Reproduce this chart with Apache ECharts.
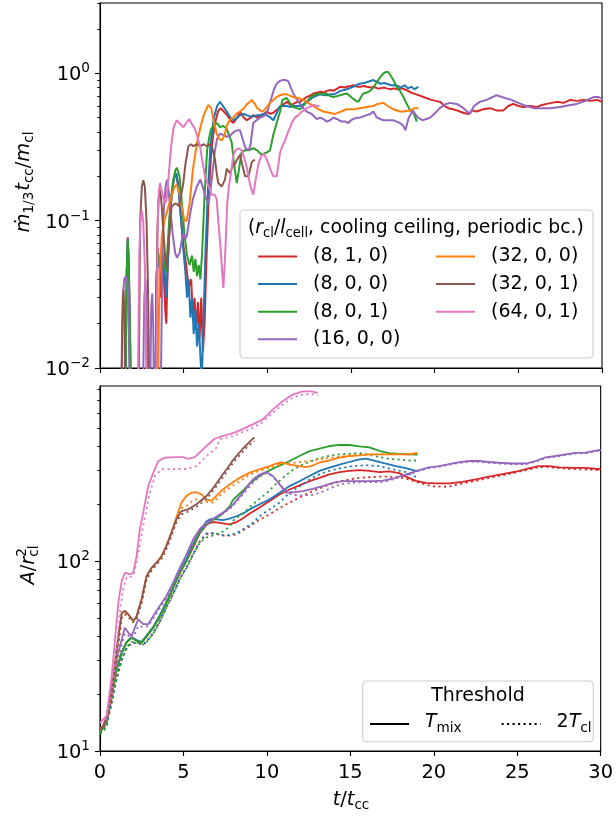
<!DOCTYPE html>
<html>
<head>
<meta charset="utf-8">
<script src="https://cdn.jsdelivr.net/npm/echarts@6/dist/echarts.min.js"></script>
<style>
  html, body { margin: 0; padding: 0; background: #ffffff; }
  #chart { width: 616px; height: 816px; }
</style>
</head>
<body>
<div id="chart"></div>
<script>
// ---------- simulation labels (r_cl/l_cell, cooling ceiling, periodic bc.) ----------
const runNames = ['(8, 1, 0)', '(8, 0, 0)', '(8, 0, 1)', '(16, 0, 0)', '(32, 0, 0)', '(32, 0, 1)', '(64, 0, 1)'];
const runColors = ['#d62728', '#1f77b4', '#2ca02c', '#9467bd', '#ff7f0e', '#8c564b', '#e377c2'];

// ---------- top panel: normalised mass growth rate, [t/t_cc, value] ----------
const rate_8_1_0 = [[1.50,0.005],[1.60,0.045],[1.66,0.077],[1.72,0.05],[1.80,0.015],[1.86,0.005],
  [3.30,0.005],[3.38,0.04],[3.45,0.065],[3.55,0.05],[3.62,0.03],[3.70,0.055],[3.80,0.045],[3.90,0.025],[3.96,0.02],[4.05,0.05],[4.20,0.12],[4.40,0.19],[4.55,0.21],[4.70,0.17],[4.85,0.1],[5.00,0.065],[5.15,0.05],[5.30,0.035],[5.45,0.04],[5.55,0.022],[5.65,0.03],[5.75,0.018],[5.85,0.028],[5.95,0.016],[6.05,0.03],[6.15,0.013],[6.25,0.02],[6.35,0.05],[6.50,0.15],[6.65,0.3],[6.85,0.45],[7.05,0.55],[7.2,0.58],[7.4,0.55],[7.6,0.52],[7.8,0.48],[7.97,0.46],[8.2,0.5],[8.37,0.55],[8.6,0.5],[8.77,0.48],[9.0,0.5],[9.16,0.52],[9.4,0.5],[9.56,0.51],[9.8,0.53],[9.96,0.55],[10.2,0.53],[10.36,0.54],[10.6,0.57],[10.76,0.59],[11.0,0.62],[11.16,0.64],[11.4,0.61],[11.55,0.62],[11.8,0.64],[11.95,0.64],[12.2,0.67],[12.35,0.69],[12.6,0.71],[12.75,0.73],[13.0,0.74],[13.15,0.75],[13.4,0.74],[13.55,0.76],[13.8,0.77],[13.95,0.76],[14.2,0.79],[14.35,0.81],[14.6,0.8],[14.75,0.81],[15.0,0.82],[15.14,0.83],[15.4,0.81],[15.54,0.81],[15.8,0.82],[15.94,0.81],[16.2,0.8],[16.34,0.81],[16.6,0.79],[16.74,0.79],[17.0,0.8],[17.13,0.79],[17.4,0.78],[17.53,0.79],[17.8,0.78],[18.0,0.79],[18.33,0.77],[18.6,0.74],[18.9,0.72],[19.33,0.69],[19.8,0.66],[20.32,0.64],[20.6,0.6],[20.82,0.58],[21.1,0.57],[21.32,0.56],[21.7,0.54],[22.0,0.53],[22.25,0.56],[22.5,0.55],[22.9,0.57],[23.3,0.58],[23.7,0.56],[24.1,0.56],[24.4,0.6],[24.7,0.62],[25.0,0.6],[25.3,0.59],[25.7,0.6],[26.1,0.59],[26.4,0.61],[26.7,0.62],[27.0,0.63],[27.3,0.64],[27.7,0.63],[28.1,0.66],[28.5,0.65],[28.9,0.66],[29.3,0.65],[29.7,0.66],[30.0,0.64]];
const rate_8_0_0 = [[1.50,0.005],[1.60,0.045],[1.66,0.075],[1.72,0.048],[1.80,0.014],[1.86,0.005],
  [3.30,0.005],[3.38,0.04],[3.45,0.062],[3.55,0.048],[3.65,0.05],[3.75,0.04],[3.85,0.05],[3.95,0.03],[4.05,0.05],[4.20,0.12],[4.40,0.19],[4.55,0.21],[4.70,0.16],[4.85,0.1],[5.00,0.06],[5.10,0.045],[5.20,0.03],[5.30,0.04],[5.40,0.022],[5.50,0.03],[5.60,0.017],[5.70,0.025],[5.80,0.014],[5.90,0.02],[6.00,0.012],[6.08,0.008],[6.18,0.02],[6.30,0.06],[6.45,0.16],[6.6,0.32],[6.8,0.5],[7.0,0.6],[7.17,0.64],[7.35,0.6],[7.57,0.55],[7.8,0.5],[7.97,0.48],[8.2,0.5],[8.37,0.52],[8.6,0.53],[8.77,0.52],[9.0,0.51],[9.16,0.51],[9.4,0.52],[9.56,0.52],[9.8,0.53],[9.96,0.52],[10.2,0.5],[10.36,0.48],[10.6,0.55],[10.76,0.6],[11.0,0.6],[11.16,0.6],[11.4,0.59],[11.55,0.6],[11.8,0.6],[11.95,0.6],[12.2,0.62],[12.35,0.64],[12.6,0.67],[12.75,0.69],[13.0,0.71],[13.15,0.72],[13.4,0.71],[13.55,0.71],[13.8,0.72],[13.95,0.72],[14.2,0.74],[14.35,0.76],[14.6,0.77],[14.75,0.78],[15.0,0.8],[15.14,0.81],[15.4,0.84],[15.54,0.85],[15.8,0.86],[15.94,0.87],[16.2,0.89],[16.34,0.9],[16.6,0.87],[16.74,0.85],[17.0,0.86],[17.13,0.85],[17.4,0.83],[17.53,0.83],[17.8,0.82],[18.0,0.8],[18.2,0.83],[18.4,0.79],[18.6,0.81],[18.8,0.78],[19.03,0.81]];
const rate_8_0_1 = [[1.50,0.005],[1.60,0.045],[1.66,0.074],[1.72,0.05],[1.80,0.015],[1.86,0.005],
  [3.30,0.005],[3.38,0.04],[3.45,0.062],[3.55,0.052],[3.65,0.048],[3.75,0.06],[3.85,0.05],[3.95,0.045],[4.05,0.07],[4.20,0.13],[4.35,0.18],[4.50,0.22],[4.60,0.228],[4.75,0.2],[4.90,0.13],[5.05,0.08],[5.20,0.058],[5.35,0.05],[5.50,0.058],[5.60,0.045],[5.70,0.055],[5.80,0.042],[5.90,0.05],[6.00,0.04],[6.10,0.06],[6.25,0.15],[6.40,0.3],[6.55,0.38],[6.65,0.42],[6.8,0.44],[7.0,0.46],[7.17,0.43],[7.35,0.44],[7.57,0.42],[7.75,0.37],[7.87,0.34],[8.0,0.25],[8.17,0.18],[8.3,0.22],[8.45,0.29],[8.65,0.3],[8.9,0.3],[9.15,0.31],[9.4,0.3],[9.65,0.28],[9.96,0.29],[10.16,0.3],[10.35,0.38],[10.56,0.46],[10.76,0.55],[10.9,0.66],[11.16,0.68],[11.35,0.63],[11.55,0.59],[11.75,0.58],[11.95,0.57],[12.15,0.6],[12.35,0.64],[12.55,0.68],[12.75,0.71],[12.95,0.72],[13.15,0.73],[13.35,0.72],[13.55,0.73],[13.75,0.7],[13.95,0.69],[14.15,0.7],[14.35,0.71],[14.55,0.72],[14.75,0.73],[14.95,0.7],[15.14,0.67],[15.3,0.65],[15.44,0.64],[15.6,0.69],[15.74,0.73],[15.94,0.74],[16.14,0.76],[16.34,0.8],[16.54,0.87],[16.74,0.94],[16.93,1.0],[17.1,1.02],[17.23,1.02],[17.4,0.95],[17.53,0.9],[17.73,0.81],[17.93,0.76],[18.13,0.69],[18.33,0.62],[18.53,0.56],[18.73,0.54],[18.85,0.5],[18.93,0.47]];
const rate_16_0_0 = [[1.28,0.005],[1.36,0.03],[1.45,0.04],[1.55,0.042],[1.65,0.038],[1.72,0.02],[1.78,0.005],
  [2.55,0.005],[2.65,0.03],[2.72,0.04],[2.80,0.02],[2.86,0.005],
  [2.98,0.005],[3.06,0.025],[3.12,0.032],[3.18,0.02],[3.24,0.005],
  [3.62,0.005],[3.72,0.05],[3.82,0.12],[3.92,0.17],[4.0,0.19],[4.1,0.16],[4.2,0.12],[4.35,0.08],[4.5,0.06],[4.6,0.056],[4.75,0.06],[4.9,0.075],[4.98,0.082],[5.1,0.075],[5.2,0.08],[5.38,0.11],[5.55,0.14],[5.78,0.17],[6.0,0.19],[6.08,0.19],[6.2,0.16],[6.3,0.145],[6.48,0.13],[6.6,0.16],[6.7,0.2],[6.87,0.3],[7.0,0.36],[7.17,0.39],[7.4,0.38],[7.57,0.37],[7.8,0.38],[8.0,0.4],[8.2,0.41],[8.37,0.41],[8.55,0.35],[8.7,0.31],[8.9,0.3],[9.0,0.33],[9.16,0.46],[9.35,0.48],[9.56,0.5],[9.76,0.51],[9.96,0.53],[10.1,0.6],[10.26,0.69],[10.4,0.78],[10.56,0.85],[10.76,0.89],[10.96,0.9],[11.1,0.9],[11.26,0.88],[11.4,0.8],[11.55,0.73],[11.75,0.67],[11.95,0.62],[12.15,0.58],[12.35,0.55],[12.65,0.53],[12.95,0.49],[13.15,0.5],[13.35,0.49],[13.55,0.47],[13.75,0.48],[13.95,0.5],[14.14,0.49],[14.3,0.48],[14.44,0.47],[14.65,0.47],[14.84,0.46],[15.0,0.48],[15.14,0.49],[15.35,0.5],[15.54,0.5],[15.75,0.51],[15.94,0.52],[16.15,0.53],[16.34,0.55],[16.55,0.5],[16.74,0.49],[16.95,0.48],[17.13,0.48],[17.33,0.48],[17.53,0.48],[17.73,0.47],[17.93,0.46],[18.13,0.44],[18.25,0.41],[18.45,0.5],[18.7,0.56],[18.83,0.53],[19.0,0.5],[19.3,0.48],[19.5,0.49],[19.73,0.5],[20.12,0.55],[20.3,0.58],[20.7,0.62],[20.92,0.63],[21.32,0.62],[21.72,0.58],[22.1,0.53],[22.35,0.6],[22.7,0.64],[23.1,0.66],[23.7,0.71],[24.2,0.68],[24.6,0.66],[25.0,0.63],[25.3,0.61],[25.9,0.58],[26.3,0.58],[26.9,0.58],[27.5,0.59],[28.1,0.61],[28.5,0.62],[29.0,0.65],[29.5,0.69],[29.8,0.69],[30.0,0.67]];
const rate_32_0_0 = [[3.45,0.005],[3.55,0.04],[3.70,0.08],[3.85,0.1],[4.08,0.124],[4.3,0.15],[4.45,0.17],[4.58,0.175],[4.72,0.16],[4.88,0.124],[5.05,0.1],[5.18,0.1],[5.35,0.13],[5.55,0.22],[5.78,0.33],[6.0,0.43],[6.2,0.52],[6.47,0.61],[6.65,0.58],[6.8,0.47],[6.97,0.39],[7.1,0.36],[7.27,0.35],[7.45,0.38],[7.57,0.44],[7.75,0.48],[7.97,0.5],[8.15,0.53],[8.37,0.55],[8.6,0.58],[8.8,0.62],[9.07,0.66],[9.25,0.62],[9.4,0.58],[9.66,0.55],[9.8,0.56],[9.96,0.59],[10.16,0.63],[10.36,0.66],[10.56,0.69],[10.76,0.71],[11.0,0.72],[11.16,0.72],[11.4,0.7],[11.55,0.69],[11.85,0.68],[12.15,0.66],[12.45,0.63],[12.75,0.6],[13.05,0.57],[13.35,0.55],[13.7,0.54],[14.05,0.53],[14.4,0.55],[14.74,0.57],[15.14,0.57],[15.54,0.58],[15.94,0.59],[16.34,0.6],[16.6,0.62],[16.93,0.63],[17.2,0.6],[17.53,0.57],[17.93,0.55],[18.13,0.55],[18.53,0.56],[18.8,0.58],[19.03,0.58]];
const rate_32_0_1 = [[1.25,0.005],[1.33,0.02],[1.40,0.034],[1.46,0.025],[1.52,0.005],
  [2.30,0.005],[2.40,0.1],[2.50,0.17],[2.59,0.188],[2.68,0.17],[2.78,0.1],[2.88,0.03],[2.95,0.005],
  [3.35,0.005],[3.42,0.08],[3.50,0.14],[3.59,0.16],[3.68,0.13],[3.80,0.08],[3.90,0.055],[3.98,0.048],[4.1,0.07],[4.2,0.1],[4.28,0.124],[4.45,0.13],[4.58,0.13],[4.72,0.125],[4.85,0.15],[4.98,0.18],[5.1,0.24],[5.28,0.32],[5.45,0.33],[5.58,0.32],[5.8,0.33],[5.98,0.32],[6.2,0.33],[6.38,0.32],[6.55,0.33],[6.68,0.32],[6.87,0.26],[7.0,0.2],[7.07,0.18],[7.17,0.18],[7.27,0.17],[7.37,0.17],[7.47,0.19],[7.57,0.225],[7.67,0.22],[7.77,0.21],[7.9,0.23],[8.07,0.244],[8.2,0.26],[8.37,0.28],[8.5,0.24],[8.67,0.2],[8.87,0.2],[9.0,0.23],[9.07,0.25],[9.26,0.26]];
const rate_64_0_1 = [[2.25,0.005],[2.35,0.06],[2.42,0.1],[2.49,0.118],[2.58,0.1],[2.68,0.05],[2.76,0.01],[2.80,0.005],
  [3.35,0.005],[3.45,0.1],[3.52,0.16],[3.59,0.18],[3.68,0.16],[3.80,0.14],[3.88,0.13],[3.98,0.14],[4.1,0.2],[4.25,0.32],[4.4,0.43],[4.58,0.48],[4.75,0.46],[4.98,0.43],[5.15,0.46],[5.34,0.49],[5.5,0.45],[5.68,0.42],[5.85,0.36],[5.98,0.32],[6.1,0.26],[6.28,0.2],[6.5,0.17],[6.68,0.15],[6.85,0.15],[6.97,0.14],[7.1,0.09],[7.2,0.066],[7.3,0.045],[7.37,0.035],[7.45,0.05],[7.53,0.08],[7.6,0.13],[7.7,0.17],[7.85,0.22],[7.97,0.28],[8.1,0.3],[8.27,0.31],[8.47,0.3],[8.65,0.26],[8.77,0.23],[8.95,0.18],[9.07,0.16],[9.16,0.15],[9.3,0.19],[9.46,0.24],[9.6,0.27],[9.76,0.285],[9.9,0.27],[10.06,0.244],[10.2,0.22],[10.36,0.2],[10.56,0.2],[10.66,0.24],[10.76,0.29],[10.9,0.32],[11.06,0.35],[11.2,0.39],[11.36,0.43],[11.5,0.47],[11.65,0.5],[11.85,0.52],[12.05,0.55],[12.2,0.56],[12.35,0.58],[12.5,0.59],[12.65,0.6],[12.8,0.61],[12.95,0.6],[13.1,0.6]];

// ---------- bottom panel: cold-gas surface area, threshold T_mix (solid) ----------
const area_8_1_0_mix = [[0,13],[0.2,13.6],[0.4,14.7],[0.7,20],[1.0,26.9],[1.3,32.9],[1.59,37.2],[1.89,39.5],[2.19,38],[2.49,37.2],[2.79,40],[3.19,44.6],[3.59,51],[3.98,60],[4.38,72],[4.78,86],[5.18,100],[5.58,118],[5.98,140],[6.38,155],[6.6,159],[6.87,160],[7.37,158],[7.77,156],[8.17,160],[8.57,168],[8.97,178],[9.56,191],[10.16,207],[10.76,224],[11.36,238],[11.95,250],[12.55,263],[13.15,274],[13.75,286],[14.35,294],[14.94,298],[15.54,301],[16.14,298],[16.74,294],[17.33,296],[17.93,290],[18.33,278],[18.93,264],[19.52,258],[20.12,256],[20.92,256],[21.72,261],[22.52,269],[23.31,278],[24.11,287],[24.9,295],[25.7,307],[26.3,316],[26.9,316],[27.5,311],[28.3,309],[29.1,309],[30,304]];
const area_8_0_0_mix = [[0,13],[0.2,13.6],[0.4,14.7],[0.7,20.2],[1.0,27],[1.3,33],[1.59,37.5],[1.89,39.8],[2.19,38.3],[2.49,37.5],[2.79,40.5],[3.19,45],[3.59,52],[3.98,61],[4.38,73],[4.78,88],[5.18,103],[5.58,123],[5.98,144],[6.38,162],[6.6,166],[6.87,166],[7.37,164],[7.77,167],[8.17,172],[8.57,178],[8.97,187],[9.56,199],[10.16,211],[10.76,229],[11.36,248],[11.95,263],[12.55,280],[13.15,298],[13.75,310],[14.35,322],[14.94,332],[15.54,343],[15.94,346],[16.54,336],[17.13,326],[17.73,316],[18.33,308],[18.93,298],[19.03,296]];
const area_8_0_1_mix = [[0,12.6],[0.2,13.2],[0.4,14.5],[0.7,20.3],[1.0,26.9],[1.3,32.9],[1.59,37.2],[1.89,39.5],[2.19,38],[2.49,37.2],[2.79,40.3],[3.19,44.6],[3.59,51.3],[3.98,60.4],[4.38,72.4],[4.78,86.8],[5.18,100],[5.58,120],[5.98,141],[6.38,156],[6.87,166],[7.37,178],[7.77,194],[7.97,210],[8.57,235],[8.97,256],[9.56,280],[10.16,300],[10.76,318],[11.36,336],[11.95,357],[12.55,379],[13.15,391],[13.75,403],[14.35,409],[14.94,408],[15.54,401],[16.14,396],[16.74,380],[17.33,370],[17.93,366],[18.53,364],[19.03,363]];
const area_16_0_0_mix = [[0,13],[0.2,13.6],[0.4,15.3],[0.7,21.6],[1.0,30.4],[1.3,38.7],[1.49,44.6],[1.69,42],[1.89,40.3],[2.09,44.6],[2.29,49.3],[2.59,46.5],[2.89,46.5],[3.19,51.3],[3.59,58.2],[3.98,65.5],[4.38,76.9],[4.78,92],[5.18,108],[5.58,130],[5.98,147],[6.38,159],[6.87,169],[7.37,180],[7.77,190],[7.97,198],[8.57,229],[9.16,269],[9.56,285],[9.96,294],[10.36,280],[10.76,253],[11.16,229],[11.55,230],[12.15,233],[12.75,240],[13.35,248],[13.95,258],[14.54,263],[15.14,263],[15.74,263],[16.34,263],[16.93,265],[17.53,271],[17.93,278],[18.53,289],[19.13,301],[19.72,311],[20.32,316],[20.92,324],[21.52,331],[22.12,336],[22.72,336],[23.31,332],[23.91,329],[24.7,326],[25.5,326],[26.1,336],[26.7,351],[27.3,357],[27.9,364],[28.5,371],[29.1,372],[29.7,381],[30,384]];
const area_32_0_0_mix = [[0,13],[0.2,13.6],[0.4,15],[0.7,20.3],[1.0,34.3],[1.3,53.4],[1.49,54.6],[1.69,52.5],[1.99,48.3],[2.19,51],[2.49,62.9],[2.79,83.4],[3.09,92],[3.39,98],[3.69,106],[3.98,120],[4.28,141],[4.58,170],[4.88,203],[5.18,220],[5.48,229],[5.78,230],[6.08,224],[6.38,211],[6.68,207],[6.97,220],[7.37,238],[7.77,253],[8.37,274],[8.97,292],[9.56,304],[10.16,316],[10.56,326],[10.96,330],[11.36,322],[11.95,316],[12.35,312],[12.75,318],[13.15,330],[13.75,339],[14.35,350],[14.94,357],[15.54,360],[16.14,364],[16.74,364],[17.33,364],[17.93,364],[18.53,364],[19.03,371]];
const area_32_0_1_mix = [[0,13],[0.2,13.6],[0.4,15],[0.7,20.3],[1.0,34.3],[1.3,53.4],[1.49,54.6],[1.69,52.5],[1.99,48.3],[2.19,51],[2.49,62.9],[2.79,83.4],[3.09,92],[3.39,98],[3.69,106],[3.98,120],[4.28,141],[4.58,166],[4.88,183],[5.28,187],[5.78,199],[6.38,220],[6.87,248],[7.37,287],[7.77,320],[7.97,340],[8.57,391],[9.16,441],[9.26,446]];
const area_64_0_1_mix = [[0,14.1],[0.1,14.1],[0.4,15.3],[0.7,24.8],[0.9,38.7],[1.1,60.4],[1.3,78.5],[1.5,86.8],[1.79,85],[1.99,87],[2.19,106],[2.39,147],[2.59,180],[2.89,248],[3.19,291],[3.49,336],[3.89,350],[4.58,352],[4.98,352],[5.28,345],[5.68,352],[5.98,373],[6.38,403],[6.87,440],[7.37,456],[7.77,466],[8.17,478],[8.57,496],[9.16,524],[9.76,557],[10.36,628],[10.96,696],[11.55,752],[12.15,782],[12.65,782],[13.05,768]];

// ---------- bottom panel: threshold 2 T_cl (dotted) ----------
const area_8_1_0_2cl = [[0,12.5],[0.2,12.8],[0.4,13.8],[0.7,18],[1.0,24],[1.3,30],[1.59,34.5],[1.89,37],[2.19,37],[2.59,36.3],[2.79,37.5],[3.19,41.5],[3.59,48],[3.98,57],[4.38,67],[4.78,80],[5.18,92],[5.58,108],[5.98,126],[6.38,138],[6.87,140],[7.37,136],[7.77,136],[8.17,138],[8.57,145],[8.97,152],[9.56,165],[10.16,176],[10.76,190],[11.36,203],[11.95,216],[12.55,229],[13.15,241],[13.75,253],[14.35,262],[14.94,269],[15.54,274],[16.14,276],[16.74,278],[17.33,278],[17.93,276],[18.53,268],[19.13,258],[19.72,250],[20.12,246],[20.92,247],[21.72,256],[22.52,264],[23.31,274],[24.11,283],[24.9,292],[25.7,303],[26.3,312],[26.9,312],[27.5,308],[28.3,305],[29.1,303],[30,301]];
const area_8_0_0_2cl = [[0,12.5],[0.2,12.8],[0.4,13.8],[0.7,18],[1.0,24.2],[1.3,30.2],[1.59,34.8],[1.89,37.2],[2.19,37.2],[2.59,36.5],[2.79,37.8],[3.19,42],[3.59,48.5],[3.98,57.5],[4.38,67.5],[4.78,81],[5.18,93],[5.58,109],[5.98,127],[6.38,140],[6.87,140],[7.37,137],[7.77,137],[8.17,140],[8.57,147],[8.97,155],[9.16,159],[9.56,172],[10.16,187],[10.76,203],[11.16,220],[11.6,236],[12.15,253],[12.6,270],[13.15,286],[13.6,296],[14.14,304],[14.6,310],[15.14,316],[15.94,319],[16.74,316],[17.53,304],[18.33,294],[19.03,274]];
const area_8_0_1_2cl = [[0,12.3],[0.2,12.6],[0.4,13.6],[0.7,18.2],[1.0,24.5],[1.3,30.5],[1.59,35],[1.89,37.5],[2.19,37.2],[2.59,36.3],[2.79,37.5],[3.19,41.5],[3.59,48],[3.98,57],[4.38,67],[4.78,80],[5.18,92],[5.58,108],[5.98,125],[6.38,133],[6.87,137],[7.37,143],[7.77,152],[7.97,163],[8.57,178],[8.97,192],[9.56,213],[9.96,226],[10.56,255],[11.16,284],[11.6,303],[11.95,316],[12.55,333],[13.15,348],[13.75,358],[14.35,364],[14.94,367],[15.54,370],[16.14,362],[16.74,352],[17.33,345],[17.93,342],[18.53,338],[19.03,338]];
const area_16_0_0_2cl = [[0,12.8],[0.2,13.2],[0.4,14.5],[0.7,20],[1.0,28],[1.3,36],[1.49,41.5],[1.69,40.5],[1.89,39],[2.09,41.5],[2.29,45.5],[2.59,45],[2.89,45.5],[3.19,50],[3.59,56.5],[3.98,63.5],[4.38,74.5],[4.78,89],[5.18,104],[5.58,125],[5.98,143],[6.38,156],[6.87,167],[7.37,178],[7.77,188],[7.97,195],[8.57,225],[9.16,258],[9.56,278],[9.96,290],[10.36,278],[10.76,255],[11.16,230],[11.55,223],[12.15,221],[12.75,223],[13.35,232],[13.95,245],[14.54,255],[15.14,258],[15.74,260],[16.34,260],[16.93,260],[17.53,268],[17.93,276],[18.53,286],[19.13,298],[19.72,308],[20.32,313],[20.92,321],[21.52,328],[22.12,333],[22.72,333],[23.31,329],[23.91,326],[24.7,323],[25.5,323],[26.1,333],[26.7,348],[27.3,354],[27.9,361],[28.5,368],[29.1,369],[29.7,378],[30,381]];
const area_32_0_0_2cl = [[0,12.8],[0.2,13.2],[0.4,14.3],[0.7,19],[1.0,31],[1.3,50],[1.49,52.5],[1.69,51],[1.99,47.5],[2.19,49.5],[2.49,60],[2.79,80],[3.09,89],[3.39,96],[3.69,103],[3.98,116],[4.28,136],[4.58,162],[4.88,190],[5.18,195],[5.48,205],[5.78,211],[6.08,208],[6.38,205],[6.77,203],[7.17,220],[7.37,229],[7.77,243],[8.37,263],[8.97,285],[9.56,298],[10.16,310],[10.76,322],[11.36,326],[11.95,332],[12.55,336],[13.15,343],[14.35,354],[15.54,362],[16.74,364],[17.93,364],[18.53,364],[19.03,371]];
const area_32_0_1_2cl = [[0,12.8],[0.2,13.2],[0.4,14.3],[0.7,19],[1.0,31],[1.3,50],[1.49,52.5],[1.69,51],[1.99,47.5],[2.19,49.5],[2.49,60],[2.79,80],[3.09,89],[3.39,96],[3.69,103],[3.98,116],[4.28,136],[4.58,160],[4.88,176],[5.28,182],[5.78,193],[6.38,212],[6.87,240],[7.37,277],[7.77,310],[7.97,328],[8.57,378],[9.16,425],[9.26,428]];
const area_64_0_1_2cl = [[0,14.1],[0.1,14],[0.4,14.8],[0.7,20],[1.0,35],[1.2,55],[1.4,72],[1.6,82],[1.79,82],[1.99,84],[2.19,98],[2.59,153],[2.99,229],[3.29,280],[3.69,304],[4.38,305],[5.18,305],[5.78,316],[6.38,357],[6.97,394],[7.17,437],[7.97,454],[8.57,478],[9.16,502],[9.76,540],[10.36,604],[10.96,668],[11.55,724],[12.15,752],[12.65,758],[13.05,743]];

const rateRuns = [rate_8_1_0, rate_8_0_0, rate_8_0_1, rate_16_0_0, rate_32_0_0, rate_32_0_1, rate_64_0_1];
const areaMixRuns = [area_8_1_0_mix, area_8_0_0_mix, area_8_0_1_mix, area_16_0_0_mix, area_32_0_0_mix, area_32_0_1_mix, area_64_0_1_mix];
const area2clRuns = [area_8_1_0_2cl, area_8_0_0_2cl, area_8_0_1_2cl, area_16_0_0_2cl, area_32_0_0_2cl, area_32_0_1_2cl, area_64_0_1_2cl];

// ---------- axis ticks ----------
const rateMajor = [0.01, 0.1, 1];
const rateMinor = [0.02,0.03,0.04,0.05,0.06,0.07,0.08,0.09,0.2,0.3,0.4,0.5,0.6,0.7,0.8,0.9,2,3];
const areaMajor = [10, 100];
const areaMinor = [20,30,40,50,60,70,80,90,200,300,400,500,600,700,800];

// ---------- styling ----------
const FF = '"DejaVu Sans"';
const FS = 19.4;     // tick and axis-title font size
const LFS = 19;      // legend font size
const SFS = 13.6;    // sub/superscript size
const DOT = [2.1, 3.4];

const chart = echarts.init(document.getElementById('chart'), null, { renderer: 'canvas' });

// measure text for hand-built math labels
const mctx = document.createElement('canvas').getContext('2d');
function fontOf(p, base) {
  const size = (p.sub || p.sup) ? base * 0.7 : base;
  return (p.it ? 'italic ' : '') + size.toFixed(2) + 'px ' + FF;
}
// lays out pieces horizontally; returns children + total width
function mathPieces(pieces, base) {
  let x = 0, prevX = 0;
  const kids = [];
  pieces.forEach(p => {
    const font = fontOf(p, base);
    mctx.font = font;
    const w = mctx.measureText(p.t).width;
    const px = p.stack ? prevX : x;
    kids.push({
      type: 'text', x: px, y: p.sub ? base * 0.28 : (p.sup ? -base * 0.36 : 0),
      style: { text: p.t, font: font, fill: '#000', align: 'left', verticalAlign: 'middle',
               textAlign: 'left', textVerticalAlign: 'middle' }
    });
    prevX = px;
    x = Math.max(x, px + w + (p.gap || 0));
  });
  return { kids, width: x };
}
function mathLabel(pieces, cx, cy, opts) {
  opts = opts || {};
  const base = opts.size || FS;
  const m = mathPieces(pieces, base);
  const off = opts.left ? 0 : -m.width / 2;
  m.kids.forEach(k => { k.x += off; k.z = 12; });
  return { type: 'group', x: cx, y: cy, rotation: opts.rotated ? Math.PI / 2 : 0, z: 12, children: m.kids };
}

const supRich = {
  b: { fontSize: FS, fontFamily: FF, color: '#000', verticalAlign: 'bottom', padding: [4, 0, 0, 0] },
  s: { fontSize: SFS, fontFamily: FF, color: '#000', verticalAlign: 'top' }
};
function powLabel(v) {
  const e = Math.round(Math.log10(v));
  return '{b|10}{s|' + (e < 0 ? '\u2212' + (-e) : e) + '}';
}

const axisLineStyle = { color: '#000', width: 1.1 };

function xAxisFor(grid, labels) {
  return {
    gridIndex: grid, type: 'value', min: 0, max: 30, interval: 5,
    axisLine: { show: true, lineStyle: axisLineStyle },
    axisTick: { show: true, length: 5, lineStyle: axisLineStyle },
    axisLabel: { show: labels, fontFamily: FF, fontSize: FS, color: '#000', margin: 12 },
    splitLine: { show: false }
  };
}
function yMajor(grid, min, max, majors) {
  return {
    gridIndex: grid, type: 'log', logBase: 10, min, max, position: 'left',
    axisLine: { show: true, lineStyle: axisLineStyle },
    axisTick: { show: true, length: 5, lineStyle: axisLineStyle, customValues: majors },
    axisLabel: { show: true, customValues: majors, formatter: powLabel, rich: supRich, margin: 10 },
    splitLine: { show: false }
  };
}
function yMinor(grid, min, max, minors) {
  return {
    gridIndex: grid, type: 'log', logBase: 10, min, max, position: 'left',
    axisLine: { show: false },
    axisTick: { show: true, length: 2.8, lineStyle: { color: '#000', width: 0.9 }, customValues: minors },
    axisLabel: { show: false },
    splitLine: { show: false }
  };
}

const series = [];
rateRuns.forEach((d, i) => {
  series.push({
    name: runNames[i], type: 'line', xAxisIndex: 0, yAxisIndex: 0, data: d,
    showSymbol: false, symbol: 'none', color: runColors[i],
    lineStyle: { width: 2, color: runColors[i] }, clip: true
  });
});
areaMixRuns.forEach((d, i) => {
  series.push({
    name: 'area ' + runNames[i] + ' mix', type: 'line', xAxisIndex: 1, yAxisIndex: 2, data: d,
    showSymbol: false, symbol: 'none', color: runColors[i],
    lineStyle: { width: 1.8, color: runColors[i] }, clip: true
  });
  series.push({
    name: 'area ' + runNames[i] + ' 2cl', type: 'line', xAxisIndex: 1, yAxisIndex: 2, data: area2clRuns[i],
    showSymbol: false, symbol: 'none', color: runColors[i],
    lineStyle: { width: 1.8, color: runColors[i], type: DOT }, clip: true
  });
});
// threshold key entries
series.push({ name: 'Tmix', type: 'line', xAxisIndex: 1, yAxisIndex: 2, data: [], symbol: 'none', color: '#000',
  lineStyle: { width: 2, color: '#000' } });
series.push({ name: '2Tcl', type: 'line', xAxisIndex: 1, yAxisIndex: 2, data: [], symbol: 'none', color: '#000',
  lineStyle: { width: 2, color: '#000', type: DOT } });

// legend keys are plain line segments (no marker)
const hiddenMarker = { color: 'rgba(0,0,0,0)', borderWidth: 0, opacity: 0 };
const legendText = { fontFamily: FF, fontSize: LFS, color: '#000', padding: [0, 0, 0, 11] };
const legendCommon = {
  orient: 'vertical', itemGap: 8.6, itemWidth: 39, itemHeight: 14, selectedMode: false,
  padding: 0, textStyle: legendText, itemStyle: hiddenMarker, z: 12
};

const graphicEls = [
  { type: 'rect', shape: { x: 240, y: 210, width: 353, height: 148, r: 4 },
    style: { fill: 'rgba(255,255,255,0.8)', stroke: '#cccccc', lineWidth: 1.1 }, z: 10 },
  { type: 'rect', shape: { x: 362.7, y: 681, width: 230.6, height: 60.7, r: 4 },
    style: { fill: 'rgba(255,255,255,0.8)', stroke: '#cccccc', lineWidth: 1.1 }, z: 10 },
  mathLabel([{ t: '(' }, { t: 'r', it: true }, { t: 'cl', sub: true }, { t: '/' }, { t: 'l', it: true },
             { t: 'cell', sub: true }, { t: ', cooling ceiling, periodic bc.)' }], 248, 228, { left: true, size: 18.8 }),
  mathLabel([{ t: 'Threshold' }], 478, 696, { size: LFS }),
  mathLabel([{ t: '\u1E41', it: true }, { t: '1/3', sub: true, gap: 1 }, { t: 't', it: true }, { t: 'cc', sub: true },
             { t: '/' }, { t: 'm', it: true }, { t: 'cl', sub: true }], 24, 182, { rotated: true }),
  mathLabel([{ t: 'A', it: true }, { t: '/' }, { t: 'r', it: true }, { t: '2', sup: true },
             { t: 'cl', sub: true, stack: true }], 29, 565, { rotated: true }),
  mathLabel([{ t: 't', it: true }, { t: '/' }, { t: 't', it: true }, { t: 'cc', sub: true }], 351, 800)
];

const option = {
  animation: false,
  backgroundColor: '#ffffff',
  grid: [
    { left: 100, top: 3, width: 502, height: 365, show: true, borderColor: '#000', borderWidth: 1.1, backgroundColor: 'transparent' },
    { left: 100, top: 386, width: 502, height: 365, show: true, borderColor: '#000', borderWidth: 1.1, backgroundColor: 'transparent' }
  ],
  xAxis: [xAxisFor(0, false), xAxisFor(1, true)],
  yAxis: [
    yMajor(0, 0.01, 3, rateMajor), yMinor(0, 0.01, 3, rateMinor),
    yMajor(1, 10, 834, areaMajor), yMinor(1, 10, 834, areaMinor)
  ],
  legend: [
    Object.assign({}, legendCommon, { data: runNames.slice(0, 4), left: 257, top: 247 }),
    Object.assign({}, legendCommon, { data: runNames.slice(4), left: 435, top: 247 }),
    {
      orient: 'horizontal', data: ['Tmix', '2Tcl'], left: 369, top: 713, itemGap: 38.9,
      itemWidth: 39, itemHeight: 14, selectedMode: false, padding: 0, z: 12, itemStyle: hiddenMarker,
      formatter: n => n === 'Tmix' ? '{i|T}{s|mix}' : '{r|2}{i|T}{s|cl}',
      textStyle: {
        fontFamily: FF, fontSize: LFS, color: '#000', padding: [0, 0, 0, 11],
        rich: {
          i: { fontFamily: FF, fontSize: LFS, fontStyle: 'italic', color: '#000', verticalAlign: 'top', padding: [0, 0, 3, 0] },
          r: { fontFamily: FF, fontSize: LFS, color: '#000', verticalAlign: 'top', padding: [0, 0, 3, 0] },
          s: { fontFamily: FF, fontSize: SFS, color: '#000', verticalAlign: 'bottom' }
        }
      }
    }
  ],
  graphic: { elements: graphicEls },
  series: series
};
chart.setOption(option);
</script>
</body>
</html>
